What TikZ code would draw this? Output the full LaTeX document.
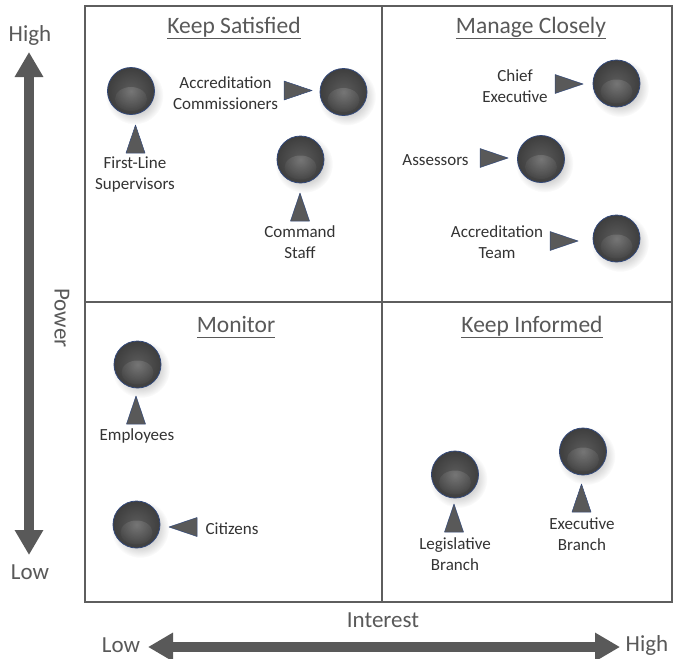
\documentclass[tikz,border=0pt]{standalone}
\usepackage{fontspec}
\setmainfont{Carlito}
\usetikzlibrary{arrows.meta,fadings,backgrounds}
\definecolor{txt}{HTML}{333333}
\definecolor{axiscol}{HTML}{595959}
\definecolor{framecol}{HTML}{5E5E5E}
\definecolor{rim}{HTML}{33497A}
\definecolor{ballin}{HTML}{5C5C5C}
\definecolor{ballout}{HTML}{3E3E3E}
\tikzfading[name=softglow, inner color=transparent!0, outer color=transparent!100]
\tikzfading[name=softshadow, inner color=transparent!25, outer color=transparent!100]
\newcommand{\ttltext}[1]{\underline{#1\vphantom{p}}}
\newcommand{\pointerat}[3]{\fill[pointer, shift={(#1,#2)}, rotate=#3] (0,0) -- (-28,-9.5) -- (-28,9.5) -- cycle;}
\begin{document}
\begin{tikzpicture}[x=1pt,y=-1pt,
  ball/.style={circle, minimum size=47pt, inner sep=0pt, draw=rim, line width=0.8pt,
    inner color=ballin, outer color=ballout,
    path picture={\fill[white, opacity=0.16, path fading=softglow]
      ([yshift=-8pt]path picture bounding box.center) ellipse [x radius=16pt, y radius=12pt];}},
  lbl/.style={font=\fontsize{17}{21}\selectfont, text=txt, align=center, inner sep=0pt},
  ttl/.style={font=\fontsize{23.5}{28}\selectfont, text=axiscol, inner sep=0pt, anchor=base},
  axlbl/.style={font=\fontsize{23}{28}\selectfont, text=axiscol, inner sep=0pt},
  axarrow/.style={draw=axiscol, line width=10pt,
    {Triangle[width=27pt,length=25pt]}-{Triangle[width=27pt,length=25pt]}},
  pointer/.style={fill=axiscol, draw=rim, line width=0.5pt, line join=round},
  framestyle/.style={draw=framecol, line width=1.3pt}]
\useasboundingbox (0,0) rectangle (678,659);

% frame
\draw[framestyle] (85,6) rectangle (672,602);
\draw[framestyle] (382,6) -- (382,602);
\draw[framestyle] (85,302) -- (672,302);

% titles
\node[ttl] (tKS) at (234,33) {\ttltext{Keep Satisfied}};
\node[ttl] (tMC) at (531,33) {\ttltext{Manage Closely}};
\node[ttl] (tMo) at (236,332) {\ttltext{Monitor}};
\node[ttl] (tKI) at (532,332) {\ttltext{Keep Informed}};

% axes
\coordinate (ptop) at (29,52);
\coordinate (pbot) at (29,555);
\draw[axarrow] (pbot) -- (ptop);
\node[axlbl] (phigh) at (30,35) {High};
\node[axlbl] (plow) at (30,572) {Low};
\node[axlbl, rotate=-90] (power) at (62,318) {Power};

\coordinate (ileft) at (148,647);
\coordinate (iright) at (620,647);
\draw[axarrow] (ileft) -- (iright);
\node[axlbl] (ilow) at (121,645) {Low};
\node[axlbl] (ihigh) at (647,645) {High};
\node[axlbl] (interest) at (383,620) {Interest};

% balls
\node[ball] (fls) at (131,91) {};
\node[ball] (ac) at (343.5,92) {};
\node[ball] (cs) at (300.5,159.5) {};
\node[ball] (ce) at (616.5,83.5) {};
\node[ball] (as) at (541,159) {};
\node[ball] (at) at (616.5,238.5) {};
\node[ball] (em) at (137.5,364.5) {};
\node[ball] (ci) at (136.5,524.5) {};
\node[ball] (lb) at (455,474.5) {};
\node[ball] (eb) at (583,451.5) {};

\begin{scope}[on background layer]
\fill[white] (0,0) rectangle (678,659);
\foreach \n in {fls,ac,cs,ce,as,at,em,ci,lb,eb}
  \fill[black, opacity=0.6, path fading=softshadow]
    ([shift={(3.5,4.5)}]\n.center) circle[radius=29pt];
\end{scope}

% pointers
\pointerat{135.5}{125}{90}
\pointerat{312}{90.5}{0}
\pointerat{300}{193}{90}
\pointerat{583}{84}{0}
\pointerat{508}{158}{0}
\pointerat{578}{241}{0}
\pointerat{136}{396}{90}
\pointerat{169}{527}{180}
\pointerat{454}{504}{90}
\pointerat{581.5}{484}{90}

% labels
\node[lbl] (lfls) at (135,175) {First-Line\\Supervisors};
\node[lbl] (lac) at (225.5,93.5) {Accreditation\\Commissioners};
\node[lbl] (lcs) at (300,242.5) {Command\\Staff};
\node[lbl] (lce) at (515,86.5) {Chief\\Executive};
\node[lbl] (las) at (435.5,160) {Assessors};
\node[lbl] (lat) at (497,242) {Accreditation\\Team};
\node[lbl] (lem) at (137,436) {Employees};
\node[lbl] (lci) at (232,529) {Citizens};
\node[lbl] (llb) at (455,554.5) {Legislative\\Branch};
\node[lbl] (leb) at (582,534) {Executive\\Branch};
\end{tikzpicture}
\end{document}
